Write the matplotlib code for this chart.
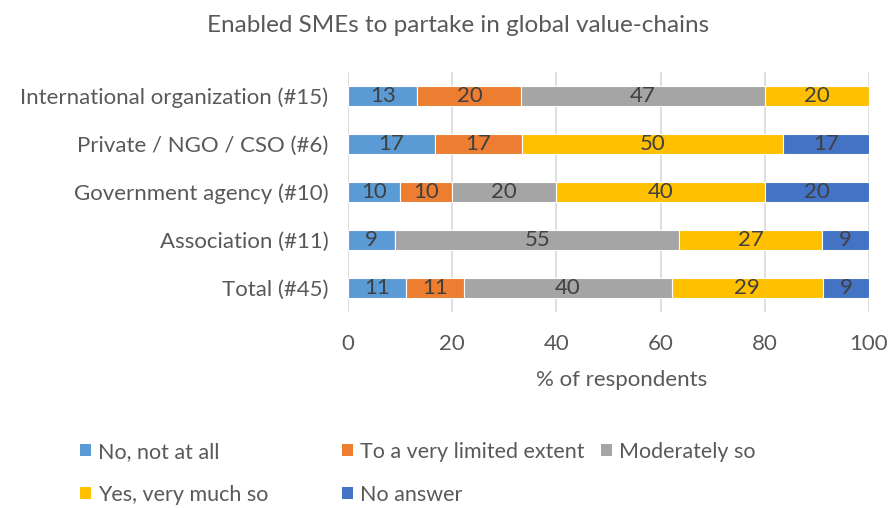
import numpy as np
import matplotlib
matplotlib.use("Agg")
import matplotlib.pyplot as plt
from matplotlib.patches import Patch

plt.rcParams["font.family"] = ["Lato", "DejaVu Sans"]

categories = ["Total (#45)", "Association (#11)", "Government agency (#10)",
              "Private / NGO / CSO (#6)", "International organization (#15)"]
series = ["No, not at all", "To a very limited extent", "Moderately so",
          "Yes, very much so", "No answer"]
colors = ["#5B9BD5", "#ED7D31", "#A5A5A5", "#FFC000", "#4472C4"]

# % of respondents, bottom row first
no_not_at_all = [11.1, 9.1, 10.0, 16.7, 13.3]
very_limited = [11.1, 0.0, 10.0, 16.7, 20.0]
moderately = [40.0, 54.5, 20.0, 0.0, 46.7]
yes_very_much = [28.9, 27.3, 40.0, 50.0, 20.0]
no_answer = [8.9, 9.1, 20.0, 16.7, 0.0]

values = [no_not_at_all, very_limited, moderately, yes_very_much, no_answer]

TEXT = "#595959"
LABEL = "#404040"

fig = plt.figure(figsize=(8.91, 5.08), dpi=100)
ax = fig.add_axes([348 / 891, 1 - 312 / 508, 521 / 891, 240 / 508])

y = np.arange(len(categories))
left = np.zeros(len(categories))
for name, vals, col in zip(series, values, colors):
    vals = np.array(vals)
    ax.barh(y, vals, left=left, height=0.4, color=col,
            edgecolor="white", linewidth=0.8, zorder=3)
    for yi, (l, v) in enumerate(zip(left, vals)):
        if v > 0:
            ax.text(l + v / 2, yi, f"{int(np.floor(v + 0.5))}", ha="center",
                    va="center", fontsize=16, color=LABEL, zorder=4)
    left += vals

ax.set_xlim(0, 100)
ax.set_ylim(-0.5, 4.5)
ax.set_xticks(np.arange(0, 101, 20))
ax.set_yticks(y)
ax.set_yticklabels(categories)
ax.tick_params(axis="both", length=0, labelsize=16, colors=TEXT)
ax.tick_params(axis="x", pad=16)
ax.tick_params(axis="y", pad=14)
ax.grid(axis="x", color="#D9D9D9", linewidth=1.2, zorder=0)
for s in ax.spines.values():
    s.set_visible(False)
ax.set_xlabel("% of respondents", fontsize=16, color=TEXT)
ax.xaxis.set_label_coords((622 - 348) / 521, (312 - 370) / 240)

fig.text(458 / 891, 1 - 25 / 508, "Enabled SMEs to partake in global value-chains",
         ha="center", va="center", fontsize=17.5, color=TEXT)

# legend laid out like the original, row by row
legend_pos = [(80, 452), (342, 452), (601, 452), (80, 495), (342, 495)]
for name, col, (px, py) in zip(series, colors, legend_pos):
    fig.legend(handles=[Patch(facecolor=col)], labels=[name],
               loc="center left", bbox_to_anchor=(px / 891, 1 - py / 508),
               frameon=False, fontsize=15.5, labelcolor=TEXT,
               handlelength=0.5, handleheight=0.5, handletextpad=0.35,
               borderpad=0, borderaxespad=0)

fig.savefig("out.png", dpi=100)
